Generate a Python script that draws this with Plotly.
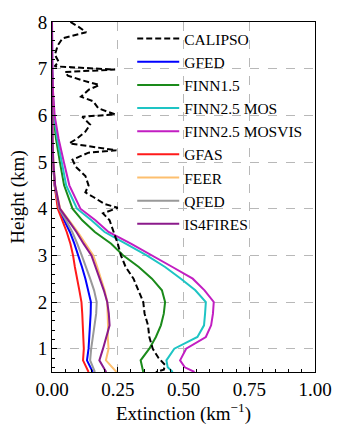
import plotly.graph_objects as go

# ---------------- data ----------------
h_cal = [8.0, 7.9, 7.78, 7.65, 7.5, 7.3, 7.15, 7.05, 6.98, 6.93, 6.85, 6.75, 6.65, 6.55, 6.4, 6.3,
         6.15, 6.02, 5.97, 5.8, 5.65, 5.5, 5.4, 5.3, 5.25, 5.2, 5.05, 4.9, 4.7, 4.5, 4.35, 4.25,
         4.1, 4.02, 3.9, 3.75, 3.5, 3.25, 3.0, 2.75, 2.5, 2.25, 2.0, 1.75, 1.5, 1.25, 1.0, 0.8,
         0.65, 0.55, 0.5]
calipso = [0.07, 0.10, 0.13, 0.04, 0.022, 0.011, 0.025, 0.01, 0.24, 0.05, 0.06, 0.115, 0.18, 0.14,
           0.11, 0.157, 0.176, 0.24, 0.115, 0.145, 0.127, 0.095, 0.066, 0.176, 0.245, 0.139, 0.078,
           0.09, 0.127, 0.139, 0.127, 0.157, 0.2, 0.25, 0.194, 0.219, 0.235, 0.25, 0.262, 0.28,
           0.31, 0.328, 0.347, 0.352, 0.365, 0.37, 0.383, 0.405, 0.43, 0.425, 0.395]

h_mod = [0.5, 0.6, 0.75, 1.0, 1.25, 1.5, 1.75, 2.0, 2.25, 2.5, 2.75, 3.0, 3.25, 3.5, 3.75, 4.0,
         4.5, 5.0, 5.5, 6.0, 6.5, 7.0, 7.5, 8.0]
gfed = [0.155, 0.145, 0.133, 0.139, 0.142, 0.145, 0.147, 0.148, 0.138, 0.127, 0.114, 0.1, 0.085,
        0.068, 0.048, 0.025, 0.01, 0.004, 0.001, 0.0, 0.0, 0.0, 0.0, 0.0]
finn15 = [0.347, 0.342, 0.337, 0.37, 0.395, 0.414, 0.425, 0.43, 0.418, 0.38, 0.33, 0.27, 0.225,
          0.163, 0.115, 0.078, 0.046, 0.03, 0.015, 0.006, 0.002, 0.0, 0.0, 0.0]
finn25_mos = [0.459, 0.44, 0.435, 0.465, 0.553, 0.578, 0.582, 0.585, 0.545, 0.49, 0.43, 0.36, 0.28,
              0.2, 0.15, 0.095, 0.054, 0.038, 0.02, 0.008, 0.003, 0.001, 0.0, 0.0]
finn25_mosvis = [0.542, 0.505, 0.487, 0.51, 0.585, 0.605, 0.612, 0.615, 0.58, 0.535, 0.458, 0.38,
                 0.3, 0.215, 0.165, 0.108, 0.066, 0.045, 0.025, 0.01, 0.004, 0.002, 0.0, 0.0]
gfas = [0.139, 0.13, 0.118, 0.121, 0.118, 0.117, 0.115, 0.112, 0.104, 0.095, 0.087, 0.08, 0.07,
        0.056, 0.04, 0.022, 0.01, 0.004, 0.001, 0.0, 0.0, 0.0, 0.0, 0.0]
feer = [0.245, 0.228, 0.205, 0.215, 0.212, 0.213, 0.212, 0.21, 0.2, 0.187, 0.172, 0.157, 0.128,
        0.098, 0.065, 0.031, 0.012, 0.005, 0.002, 0.0, 0.0, 0.0, 0.0, 0.0]
qfed = [0.163, 0.155, 0.145, 0.149, 0.155, 0.163, 0.168, 0.17, 0.16, 0.145, 0.13, 0.113, 0.096,
        0.077, 0.053, 0.027, 0.011, 0.004, 0.001, 0.0, 0.0, 0.0, 0.0, 0.0]
is4fires = [0.206, 0.195, 0.18, 0.194, 0.207, 0.219, 0.216, 0.21, 0.197, 0.182, 0.167, 0.15, 0.12,
            0.093, 0.062, 0.03, 0.012, 0.005, 0.002, 0.0, 0.0, 0.0, 0.0, 0.0]

names = ["CALIPSO", "GFED", "FINN1.5", "FINN2.5 MOS", "FINN2.5 MOSVIS", "GFAS", "FEER", "QFED", "IS4FIRES"]
colors = ["#000000", "#0000ff", "#1a8a1a", "#1ec4c4", "#c21ec2", "#ff1a1a", "#fdbf6f", "#999999", "#8b1a8b"]
x_ticks = [0.0, 0.25, 0.5, 0.75, 1.0]
y_ticks = [1, 2, 3, 4, 5, 6, 7, 8]

model_series = [gfed, finn15, finn25_mos, finn25_mosvis, gfas, feer, qfed, is4fires]

# ---------------- figure ----------------
fig = go.Figure()
for i, (nm, vals) in enumerate(zip(names[1:], model_series), start=1):
    fig.add_trace(go.Scatter(x=vals, y=h_mod, mode="lines", name=nm, legendrank=i + 1,
                             line=dict(color=colors[i], width=2)))
fig.add_trace(go.Scatter(x=calipso, y=h_cal, mode="lines", name=names[0], legendrank=1,
                         line=dict(color=colors[0], width=2, dash="6px,3px")))

font_family = "Liberation Serif, Times New Roman, serif"
axis_common = dict(showline=True, linecolor="black", linewidth=1, mirror=True,
                   ticks="inside", ticklen=5, tickcolor="black", tickwidth=1,
                   showgrid=True, gridcolor="#b8b8b8", griddash="dash", gridwidth=1,
                   zeroline=False, tickfont=dict(family=font_family, size=19, color="black"))

fig.update_xaxes(range=[0, 1], tickvals=x_ticks, tickformat=".2f",
                 minor=dict(dtick=0.05, tick0=0, ticks="inside", ticklen=3, tickcolor="black", showgrid=False),
                 title=dict(text="Extinction (km<sup>−1</sup>)", font=dict(family=font_family, size=19, color="black"),
                            standoff=7),
                 **axis_common)
fig.update_yaxes(range=[0.5, 8], tickvals=y_ticks,
                 minor=dict(dtick=0.2, tick0=0, ticks="inside", ticklen=3, tickcolor="black", showgrid=False),
                 title=dict(text="Height (km)", font=dict(family=font_family, size=19, color="black"),
                            standoff=8),
                 **axis_common)

fig.update_layout(
    width=344, height=432,
    margin=dict(l=52, r=19, t=17, b=53),
    plot_bgcolor="white", paper_bgcolor="white",
    font=dict(family=font_family, size=19, color="black"),
    legend=dict(x=0.305, y=1.0, xanchor="left", yanchor="top", bgcolor="rgba(0,0,0,0)",
                font=dict(family=font_family, size=15.5, color="black"), itemwidth=42,
                tracegroupgap=0),
    showlegend=True,
)

fig.write_html("out.html")
